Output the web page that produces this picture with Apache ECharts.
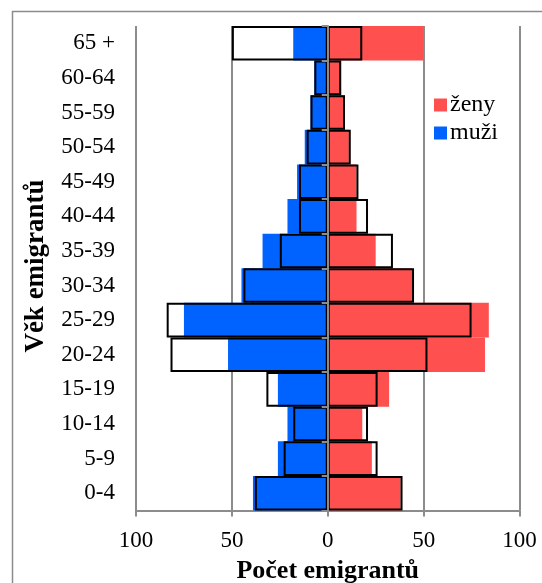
<!DOCTYPE html>
<html>
<head>
<meta charset="utf-8">
<script src="https://cdn.jsdelivr.net/npm/echarts@6/dist/echarts.min.js"></script>
<style>
html,body{margin:0;padding:0;background:#fff;}
#c{width:542px;height:583px;}
</style>
</head>
<body>
<div id="c"></div>
<script>
const categories = ['0-4','5-9','10-14','15-19','20-24','25-29','30-34','35-39','40-44','45-49','50-54','55-59','60-64','65 +'];
const muzi = [39, 26, 21, 26, 52, 75, 45, 34, 21, 16, 12, 9, 7, 18];
const zeny = [38, 23, 18, 32, 82, 84, 44, 25, 15, 15, 11, 9, 7, 50];
const xTicks = [-100, -50, 0, 50, 100];

const FONT = '"Liberation Serif", "Times New Roman", serif';
const GRID = '#8c8c8c';

const chart = echarts.init(document.getElementById('c'));
chart.setOption({
  animation: false,
  backgroundColor: '#fff',
  textStyle: {fontFamily: FONT, color: '#000'},
  grid: {left: 136, right: 22.5, top: 26, bottom: 72.5, containLabel: false, outerBoundsMode: 'none'},
  legend: {
    orient: 'vertical', left: 429, top: 88,
    itemWidth: 13, itemHeight: 13, itemGap: 4,
    icon: 'rect',
    data: ['ženy', 'muži'],
    textStyle: {fontFamily: FONT, fontSize: 24, color: '#000', padding: [0,0,0,-2]}
  },
  xAxis: {
    type: 'value', min: xTicks[0], max: xTicks[xTicks.length-1], interval: 50,
    axisLine: {show: true, onZero: false, lineStyle: {color: GRID, width: 2}},
    axisTick: {show: true, length: 6, lineStyle: {color: GRID, width: 2}},
    axisLabel: {fontFamily: FONT, fontSize: 23, color: '#000', margin: 19,
      formatter: v => String(Math.abs(v))},
    splitLine: {show: true, lineStyle: {color: GRID, width: 2}},
    name: 'Počet emigrantů', nameLocation: 'middle', nameGap: 48,
    nameTextStyle: {fontFamily: FONT, fontSize: 26, fontWeight: 'bold', color: '#000'}
  },
  yAxis: [
    {
      type: 'category', data: categories, position: 'left',
      axisLine: {show: false, onZero: false},
      axisTick: {show: false},
      axisLabel: {fontFamily: FONT, fontSize: 23, color: '#000', margin: 21}
    },
    {
      type: 'category', data: categories, position: 'left', z: 10,
      axisLine: {show: true, onZero: true, lineStyle: {color: GRID, width: 2}},
      axisTick: {show: true, length: 6, lineStyle: {color: GRID, width: 2}},
      axisLabel: {show: false}
    }
  ],
  graphic: [
    {type: 'rect', z: 100, shape: {x: 12.5, y: 11.5, width: 560, height: 600},
      style: {fill: 'none', stroke: '#8c8c8c', lineWidth: 1.5}},
    {type: 'text', z: 100, x: 36, y: 266, rotation: Math.PI/2,
      style: {text: 'Věk emigrantů', font: 'bold 27px "Liberation Serif", serif', fill: '#000',
        align: 'center', verticalAlign: 'middle'}}
  ],
  series: [
    {name: 'muži', type: 'bar', yAxisIndex: 0, barGap: '-100%', barCategoryGap: '0%',
      itemStyle: {color: '#0062ff'}, data: muzi.map(v => -v)},
    {name: 'ženy', type: 'bar', yAxisIndex: 0, barGap: '-100%', barCategoryGap: '0%',
      itemStyle: {color: '#ff5050'}, data: zeny},
    {name: 'ženy_obrys', type: 'bar', yAxisIndex: 0, barGap: '-100%', barCategoryGap: '0%', z: 3,
      itemStyle: {color: 'rgba(0,0,0,0)', borderColor: '#000', borderWidth: 2}, data: zeny.map(v => -v)},
    {name: 'muzi_obrys', type: 'bar', yAxisIndex: 0, barGap: '-100%', barCategoryGap: '0%', z: 3,
      itemStyle: {color: 'rgba(0,0,0,0)', borderColor: '#000', borderWidth: 2}, data: muzi}
  ]
});
</script>
</body>
</html>
